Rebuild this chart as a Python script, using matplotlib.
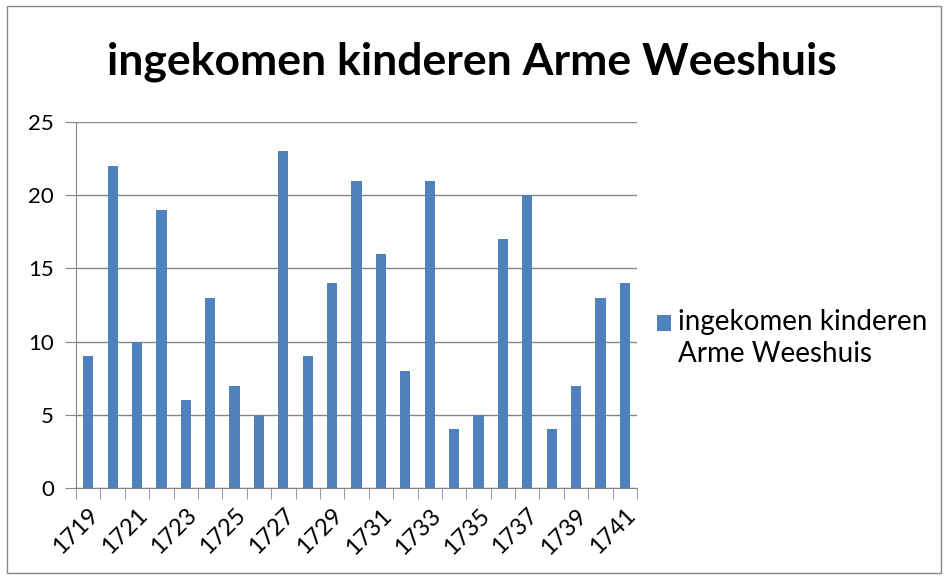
import numpy as np
import matplotlib.pyplot as plt
from matplotlib.patches import Rectangle

years = list(range(1719, 1742))
kinderen = [9, 22, 10, 19, 6, 13, 7, 5, 23, 9, 14, 21, 16, 8, 21, 4, 5, 17, 20, 4, 7, 13, 14]
label = 'ingekomen kinderen\nArme Weeshuis'

plt.rcParams['font.family'] = ['Lato', 'DejaVu Sans']

fig = plt.figure(figsize=(9.47, 5.76), dpi=100)
fig.patches.append(Rectangle((0.007, 0.005), 0.987, 0.985, transform=fig.transFigure,
                             fill=False, edgecolor='#888888', linewidth=1))
ax = fig.add_axes([0.0803, 0.1528, 0.5924, 0.6354])

x = np.arange(len(years))
ax.bar(x, kinderen, width=0.42, color='#4F81BD', label=label, zorder=3)

ax.set_xlim(-0.5, len(years) - 0.5)
ax.set_ylim(0, 25)
ax.set_yticks(range(0, 26, 5))
ax.yaxis.grid(True, color='#868686', linewidth=1, zorder=0)
ax.tick_params(axis='y', length=8, color='#868686', labelsize=16, pad=8)

ax.set_xticks(x[::2])
ax.set_xticklabels([str(y) for y in years[::2]], rotation=45, ha='right',
                   rotation_mode='anchor', fontsize=17)
ax.set_xticks(np.arange(-0.5, len(years)), minor=True)
ax.tick_params(axis='x', which='major', length=0, pad=12)
ax.tick_params(axis='x', which='minor', length=8, color='#868686')

for s in ['top', 'right']:
    ax.spines[s].set_visible(False)
ax.spines['left'].set_color('#868686')
ax.spines['bottom'].set_color('#868686')

fig.text(0.498, 0.893, 'ingekomen kinderen Arme Weeshuis', ha='center', va='center',
         fontsize=32, fontweight='bold')

leg = ax.legend(loc='center left', bbox_to_anchor=(1.035, 0.41), frameon=False,
                fontsize=20, handlelength=0.5, handleheight=0.5, handletextpad=0.25,
                borderaxespad=0, borderpad=0)
for t in leg.get_texts():
    t.set_linespacing(1.3)
h = leg.legend_handles[0]
h.set_y(h.get_y() + 11)

fig.savefig('out.png', dpi=100)
